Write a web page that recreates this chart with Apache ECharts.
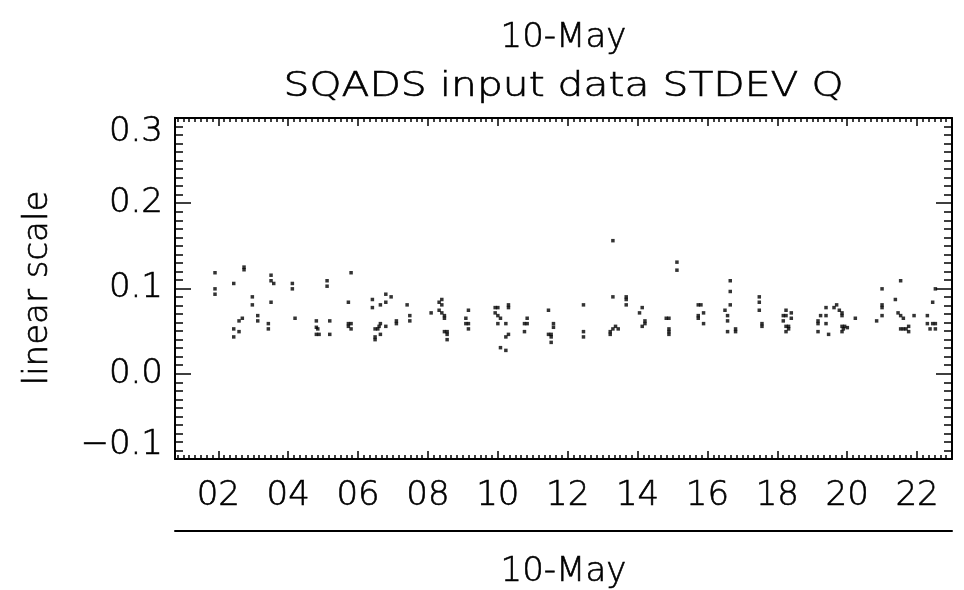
<!DOCTYPE html>
<html>
<head>
<meta charset="utf-8">
<title>SQADS input data STDEV Q</title>
<script src="https://cdn.jsdelivr.net/npm/echarts@6/dist/echarts.min.js"></script>
<style>
  html, body { margin: 0; padding: 0; background: #ffffff; }
  #chart { width: 964px; height: 590px; }
</style>
</head>
<body>
<div id="chart"></div>
<script>
// Labels
const dayLabel = '10-May';
const chartTitle = 'SQADS input data STDEV Q';
const yTitle = 'linear scale';

// Hour-of-day axis ticks
const hourTicks = [2, 4, 6, 8, 10, 12, 14, 16, 18, 20, 22];
const hourTickLabels = ['02', '04', '06', '08', '10', '12', '14', '16', '18', '20', '22'];

// Observation times (hours) and STDEV Q values
const hours = [
  1.905, 1.905, 1.905, 2.736, 2.736, 2.441, 2.974, 2.974, 2.687, 2.593,
  2.441, 2.593, 2.441, 3.128, 3.128, 3.509, 3.509, 3.586, 3.509, 3.432,
  3.432, 4.119, 4.119, 4.196, 4.806, 4.806, 4.847, 4.806, 4.884, 5.113,
  5.113, 5.190, 5.190, 5.800, 5.723, 5.723, 5.800, 5.723, 5.800,
  6.410, 6.410, 6.639, 6.794, 6.794, 6.946, 6.639, 6.602, 6.487, 6.565,
  6.794, 6.639, 6.487, 6.487, 7.097, 7.097, 7.404, 7.481, 7.481, 8.091,
  8.320, 8.397, 8.397, 8.320, 8.397, 8.472, 8.472, 8.472, 8.549, 8.549,
  8.549, 9.159, 9.085, 9.085, 9.159, 9.159, 9.924, 10.001, 9.924, 10.001,
  10.076, 10.305, 10.305, 10.001, 10.230, 10.305, 10.230, 10.076, 10.230, 10.840,
  10.763, 10.840, 10.763, 11.450, 11.450, 11.527, 11.527, 11.527, 11.593, 11.593,
  12.452, 12.452, 12.452, 13.294, 13.294, 13.217, 13.217, 13.294, 13.369, 13.446,
  13.675, 13.675, 13.675, 14.133, 14.056, 14.211, 14.211, 14.133, 14.821, 14.898,
  14.898, 14.898, 14.898, 15.127, 15.127, 15.737, 15.814, 15.737, 15.737, 15.889,
  15.889, 16.653, 16.653, 16.653, 16.502, 16.576, 16.576, 16.576, 16.805, 16.805,
  17.484, 17.484, 17.484, 17.561, 17.561, 18.249, 18.171, 18.249, 18.400, 18.400,
  18.171, 18.249, 18.323, 18.323, 18.249, 19.394, 19.239, 19.394, 19.165, 19.165,
  19.394, 19.165, 19.468, 19.623, 19.698, 19.775, 19.852, 19.852, 19.852, 19.927,
  20.004, 19.889, 19.852, 20.233, 20.998, 20.998, 20.998, 20.998, 20.843, 21.379,
  21.530, 21.456, 21.530, 21.608, 21.530, 21.608, 21.685, 21.759, 21.759, 21.914,
  22.524, 22.447, 22.295, 22.447, 22.524, 22.372, 22.524, 22.295
];
const stdevQ = [
  0.1185, 0.0996, 0.0933, 0.1251, 0.1220, 0.1059, 0.0902, 0.0808, 0.0651, 0.0620,
  0.0526, 0.0494, 0.0432, 0.0682, 0.0620, 0.1156, 0.1091, 0.1059, 0.0839, 0.0588,
  0.0526, 0.1059, 0.0996, 0.0651, 0.0620, 0.0545, 0.0526, 0.0462, 0.0462, 0.1091,
  0.1027, 0.0620, 0.0462, 0.1185, 0.0839, 0.0588, 0.0588, 0.0556, 0.0526,
  0.0871, 0.0776, 0.0808, 0.0933, 0.0839, 0.0902, 0.0588, 0.0556, 0.0526, 0.0526,
  0.0556, 0.0462, 0.0432, 0.0400, 0.0620, 0.0588, 0.0808, 0.0682, 0.0620, 0.0714,
  0.0839, 0.0871, 0.0808, 0.0745, 0.0714, 0.0682, 0.0651, 0.0494, 0.0494, 0.0462,
  0.0400, 0.0745, 0.0651, 0.0588, 0.0588, 0.0526, 0.0776, 0.0776, 0.0714, 0.0682,
  0.0651, 0.0808, 0.0776, 0.0588, 0.0588, 0.0462, 0.0432, 0.0306, 0.0274, 0.0651,
  0.0588, 0.0588, 0.0494, 0.0745, 0.0462, 0.0462, 0.0432, 0.0368, 0.0588, 0.0545,
  0.0808, 0.0494, 0.0432, 0.1561, 0.0902, 0.0494, 0.0462, 0.0526, 0.0556, 0.0526,
  0.0902, 0.0871, 0.0808, 0.0776, 0.0714, 0.0620, 0.0588, 0.0556, 0.0651, 0.0651,
  0.0526, 0.0494, 0.0462, 0.1309, 0.1215, 0.0808, 0.0808, 0.0682, 0.0651, 0.0714,
  0.0588, 0.1091, 0.0965, 0.0808, 0.0745, 0.0682, 0.0620, 0.0494, 0.0526, 0.0494,
  0.0902, 0.0839, 0.0745, 0.0588, 0.0556, 0.0745, 0.0682, 0.0682, 0.0714, 0.0651,
  0.0620, 0.0556, 0.0556, 0.0526, 0.0494, 0.0776, 0.0682, 0.0682, 0.0620, 0.0588,
  0.0588, 0.0494, 0.0462, 0.0776, 0.0808, 0.0745, 0.0714, 0.0682, 0.0556, 0.0556,
  0.0541, 0.0526, 0.0494, 0.0651, 0.0996, 0.0808, 0.0776, 0.0682, 0.0620, 0.0871,
  0.1091, 0.0714, 0.0682, 0.0651, 0.0526, 0.0526, 0.0526, 0.0556, 0.0494, 0.0682,
  0.0996, 0.0839, 0.0588, 0.0588, 0.0588, 0.0526, 0.0526, 0.0682
];

const FONT = "'DejaVu Sans', sans-serif";
const WEIGHT = 200;
const INK = '#000000';
const HALO = 0.6;   // slight outline so the light face reads like a pen stroke
const HOUR_MIN = 0.76;
const HOUR_MAX = 23.0;

// minor hour ticks every 10 minutes
const minorHours = [];
for (let k = Math.ceil(HOUR_MIN * 6); k / 6 <= HOUR_MAX + 1e-9; k++) minorHours.push(k / 6);

const points = hours.map((h, i) => [h, stdevQ[i]]);

const GRID = { left: 175, right: 12, top: 118, bottom: 131, outerBoundsMode: 'none', containLabel: false };
const plotCenterX = GRID.left + (964 - GRID.left - GRID.right) / 2;

function hourAxis(extra) {
  return Object.assign({
    type: 'value',
    gridIndex: 0,
    min: HOUR_MIN,
    max: HOUR_MAX,
    splitLine: { show: false },
    axisLine: { show: false, onZero: false },
    axisTick: { show: false },
    axisLabel: { show: false }
  }, extra);
}

const lineStyle = { color: INK, width: 2 };
const tickStyle = { color: INK, width: 1.5 };
const textFont = WEIGHT + ' 34px ' + FONT;
const labelText = {
  color: INK, fontSize: 34, fontWeight: WEIGHT, fontFamily: FONT,
  textBorderColor: INK, textBorderWidth: HALO
};

function yAxisDef(position, showLabels) {
  return {
    type: 'value',
    position: position,
    min: -0.1,
    max: 0.3,
    interval: 0.1,
    splitLine: { show: false },
    axisLine: { show: true, onZero: false, lineStyle: lineStyle },
    axisTick: { show: true, inside: true, length: 16, lineStyle: tickStyle },
    minorTick: { show: true, splitNumber: 10, length: 8, lineStyle: tickStyle },
    axisLabel: Object.assign({
      show: showLabels,
      margin: 12,
      lineHeight: 28,
      verticalAlignMaxLabel: 'top',
      verticalAlignMinLabel: 'bottom',
      formatter: function (v) {
        const r = Math.round(v * 10) / 10;
        return (r < 0 ? '\u2212' : '') + Math.abs(r).toFixed(1);
      }
    }, labelText)
  };
}

function textMark(text, x, y, extra) {
  return Object.assign({
    type: 'text', x: x, y: y, silent: true,
    style: {
      text: text, fill: INK, font: textFont, align: 'center', verticalAlign: 'middle',
      stroke: INK, lineWidth: HALO
    }
  }, extra || {});
}

const chart = echarts.init(document.getElementById('chart'), null, { renderer: 'canvas' });

chart.setOption({
  animation: false,
  backgroundColor: '#ffffff',
  grid: GRID,
  graphic: [
    textMark(dayLabel, plotCenterX, 38),
    textMark(chartTitle, plotCenterX, 87, { scaleX: 1.2 }),
    textMark(yTitle, 38, 288, { rotation: Math.PI / 2 })
  ],
  xAxis: [
    hourAxis({
      position: 'bottom',
      axisLine: { show: true, onZero: false, lineStyle: lineStyle },
      axisTick: { show: true, inside: true, length: 8, customValues: hourTicks, lineStyle: tickStyle },
      axisLabel: Object.assign({
        show: true,
        customValues: hourTicks,
        margin: 20,
        formatter: function (v) {
          const i = hourTicks.indexOf(Math.round(v));
          return i >= 0 ? hourTickLabels[i] : '';
        }
      }, labelText)
    }),
    hourAxis({
      position: 'bottom',
      axisTick: { show: true, inside: true, length: 4, customValues: minorHours, lineStyle: tickStyle }
    }),
    hourAxis({
      position: 'top',
      axisLine: { show: true, onZero: false, lineStyle: lineStyle },
      axisTick: { show: true, inside: true, length: 8, customValues: hourTicks, lineStyle: tickStyle }
    }),
    hourAxis({
      position: 'top',
      axisTick: { show: true, inside: true, length: 4, customValues: minorHours, lineStyle: tickStyle }
    }),
    hourAxis({
      position: 'bottom',
      offset: 72,
      axisLine: { show: true, onZero: false, lineStyle: lineStyle },
      name: dayLabel,
      nameLocation: 'middle',
      nameGap: 24,
      nameTextStyle: labelText
    })
  ],
  yAxis: [yAxisDef('left', true), yAxisDef('right', false)],
  series: [
    {
      type: 'scatter',
      xAxisIndex: 0,
      yAxisIndex: 0,
      data: points,
      symbol: 'rect',
      symbolSize: 3.5,
      silent: true,
      itemStyle: { color: '#000000' },
      emphasis: { disabled: true }
    }
  ]
});
</script>
</body>
</html>
